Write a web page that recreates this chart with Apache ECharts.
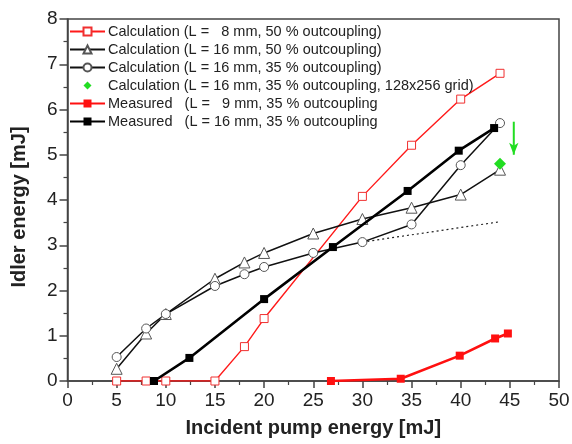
<!DOCTYPE html>
<html>
<head>
<meta charset="utf-8">
<script src="https://cdn.jsdelivr.net/npm/echarts@6/dist/echarts.min.js"></script>
<style>
  html, body { margin: 0; padding: 0; background: #fff; }
  #chart { width: 572px; height: 444px; }
</style>
</head>
<body>
<div id="chart"></div>
<script>
// pump energy (mJ) and idler energy (mJ)
var xCalc8 = [5, 8, 10, 15, 18, 20, 30, 35, 40, 44];
var yCalc8 = [0, 0, 0, 0, 0.76, 1.38, 4.08, 5.21, 6.23, 6.8];
var xCalc16 = [5, 8, 10, 15, 18, 20, 25, 30, 35, 40, 44];
var yCalc16_50 = [0.27, 1.05, 1.48, 2.26, 2.62, 2.83, 3.26, 3.58, 3.83, 4.12, 4.67];
var yCalc16_35 = [0.53, 1.16, 1.48, 2.1, 2.36, 2.52, 2.83, 3.07, 3.46, 4.77, 5.7];
var xGrid = [44];
var yGrid = [4.8];
var xMeas9 = [26.8, 33.9, 39.9, 43.5, 44.8];
var yMeas9 = [0, 0.05, 0.56, 0.94, 1.05];
var xMeas16 = [8.8, 12.4, 20, 27, 34.6, 39.8, 43.4];
var yMeas16 = [0, 0.51, 1.81, 2.96, 4.2, 5.09, 5.59];
var xDotted = [30, 44];
var yDotted = [3.07, 3.52];
var xArrow = [45.4, 45.4];
var yArrow = [5.73, 5.0];

var names = [
  'Calculation (L =   8 mm, 50 % outcoupling)',
  'Calculation (L = 16 mm, 50 % outcoupling)',
  'Calculation (L = 16 mm, 35 % outcoupling)',
  'Calculation (L = 16 mm, 35 % outcoupling, 128x256 grid)',
  'Measured   (L =   9 mm, 35 % outcoupling',
  'Measured   (L = 16 mm, 35 % outcoupling'
];

function pairs(xs, ys) {
  return xs.map(function (x, i) { return [x, ys[i]]; });
}

var font = 'Liberation Sans, Arial, sans-serif';
var chart = echarts.init(document.getElementById('chart'));
var option = {
  animation: false,
  textStyle: { fontFamily: font },
  grid: {
    left: 67.5, right: 13, top: 19, bottom: 63,
    outerBoundsMode: 'none',
    show: true, borderColor: '#444', borderWidth: 1.5
  },
  legend: {
    orient: 'vertical',
    left: 69, top: 24, padding: 0,
    itemWidth: 35, itemHeight: 10, itemGap: 3,
    textStyle: { fontSize: 14.5, color: '#222', fontFamily: font, padding: [0, 0, 0, -2] },
    data: names
  },
  xAxis: {
    type: 'value', min: 0, max: 50, interval: 5,
    name: 'Incident pump energy [mJ]',
    nameLocation: 'middle', nameGap: 37,
    nameTextStyle: { fontSize: 20, fontWeight: 'bold', color: '#222' },
    axisLine: { lineStyle: { color: '#444', width: 1.5 } },
    axisTick: { length: 7, lineStyle: { color: '#444', width: 1.5 } },
    minorTick: { show: true, splitNumber: 2, length: 4, lineStyle: { color: '#444', width: 1.2 } },
    axisLabel: { fontSize: 19, color: '#222', margin: 10 },
    splitLine: { show: false }
  },
  yAxis: {
    type: 'value', min: 0, max: 8, interval: 1,
    name: 'Idler energy [mJ]',
    nameLocation: 'middle', nameGap: 38,
    nameTextStyle: { fontSize: 20, fontWeight: 'bold', color: '#222', padding: [0, 0, 0, -14] },
    axisLine: { lineStyle: { color: '#444', width: 1.5 } },
    axisTick: { length: 8, lineStyle: { color: '#444', width: 1.5 } },
    minorTick: { show: true, splitNumber: 2, length: 4, lineStyle: { color: '#444', width: 1.2 } },
    axisLabel: { fontSize: 19, color: '#222', margin: 10 },
    splitLine: { show: false }
  },
  series: [
    {
      name: names[0], type: 'line', data: pairs(xCalc8, yCalc8),
      symbol: 'rect', symbolSize: 8, z: 3,
      lineStyle: { color: '#ff1a1a', width: 1.4 },
      itemStyle: { color: '#fff', borderColor: '#f03030', borderWidth: 1 }
    },
    {
      name: names[1], type: 'line', data: pairs(xCalc16, yCalc16_50),
      symbol: 'triangle', symbolSize: 11, z: 3,
      lineStyle: { color: '#111', width: 1.5 },
      itemStyle: { color: '#fff', borderColor: '#555', borderWidth: 1 }
    },
    {
      name: names[2], type: 'line', data: pairs(xCalc16, yCalc16_35),
      symbol: 'circle', symbolSize: 9, z: 3,
      lineStyle: { color: '#111', width: 1.5 },
      itemStyle: { color: '#fff', borderColor: '#555', borderWidth: 1 }
    },
    {
      // single point drawn as a line series so the legend shows a lone diamond
      name: names[3], type: 'line', data: pairs(xGrid, yGrid),
      symbol: 'diamond', symbolSize: 12, z: 5,
      lineStyle: { width: 0, opacity: 0 },
      itemStyle: { color: '#22dd22' }
    },
    {
      name: names[4], type: 'line', data: pairs(xMeas9, yMeas9),
      symbol: 'rect', symbolSize: 8, z: 4,
      lineStyle: { color: '#ff1010', width: 2.6 },
      itemStyle: { color: '#ff1010' }
    },
    {
      name: names[5], type: 'line', data: pairs(xMeas16, yMeas16),
      symbol: 'rect', symbolSize: 8, z: 4,
      lineStyle: { color: '#000', width: 2.6 },
      itemStyle: { color: '#000' }
    },
    {
      name: 'trend', type: 'line', data: pairs(xDotted, yDotted),
      symbol: 'none', z: 2, silent: true,
      lineStyle: { color: '#222', width: 1.2, type: [2, 3] }
    },
    {
      name: 'arrow', type: 'line', z: 5, silent: true,
      data: [
        { value: [xArrow[0], yArrow[0]], symbol: 'none' },
        { value: [xArrow[1], yArrow[1]], symbol: 'arrow', symbolSize: [7, 12], symbolRotate: 180 }
      ],
      lineStyle: { color: '#22dd22', width: 2 },
      itemStyle: { color: '#22dd22' }
    }
  ]
};
chart.setOption(option);
</script>
</body>
</html>
